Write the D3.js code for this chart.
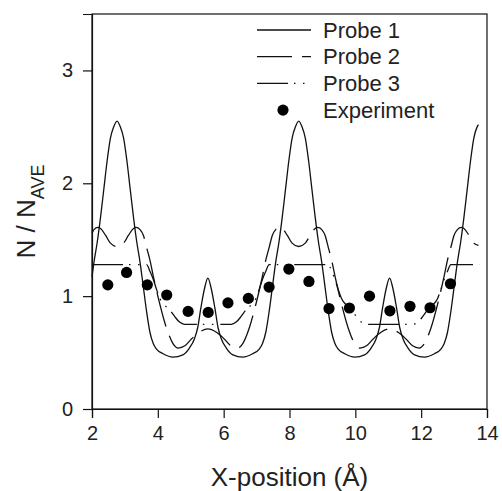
<!DOCTYPE html>
<html>
<head>
<meta charset="utf-8">
<script src="https://cdn.jsdelivr.net/npm/d3@7"></script>
<style>
  html, body { margin: 0; padding: 0; background: #fff; }
  svg { display: block; font-family: "Liberation Sans", Arial, sans-serif; }
</style>
</head>
<body>
<svg id="chart" width="502" height="491"></svg>
<script>
// Density profiles across the cell, N / N_AVE versus x-position (Å)
const probe1X = [2.00,2.06,2.16,2.26,2.36,2.46,2.56,2.66,2.76,2.86,2.96,3.06,3.16,3.26,3.36,3.46,3.56,3.66,3.76,3.86,3.96,4.16,4.46,4.76,4.96,5.11,5.21,5.31,5.42,5.52,5.62,5.73,5.83,5.93,6.08,6.28,6.58,6.88,7.08,7.18,7.28,7.38,7.48,7.58,7.68,7.78,7.88,7.98,8.08,8.18,8.28,8.38,8.48,8.58,8.68,8.78,8.88,8.98,9.08,9.18,9.28,9.38,9.48,9.68,9.98,10.28,10.48,10.63,10.73,10.83,10.94,11.04,11.14,11.25,11.35,11.45,11.60,11.80,12.10,12.40,12.60,12.70,12.80,12.90,13.00,13.10,13.20,13.30,13.40,13.50,13.60,13.70,13.74];
const probe1Y = [1.17,1.30,1.48,1.70,1.95,2.20,2.40,2.50,2.55,2.50,2.40,2.20,1.95,1.70,1.48,1.30,1.08,0.86,0.68,0.58,0.53,0.49,0.46,0.48,0.54,0.62,0.72,0.90,1.07,1.16,1.07,0.90,0.72,0.62,0.54,0.48,0.46,0.49,0.53,0.58,0.68,0.86,1.08,1.30,1.48,1.70,1.95,2.20,2.40,2.50,2.55,2.50,2.40,2.20,1.95,1.70,1.48,1.30,1.08,0.86,0.68,0.58,0.53,0.49,0.46,0.48,0.54,0.62,0.72,0.90,1.07,1.16,1.07,0.90,0.72,0.62,0.54,0.48,0.46,0.49,0.53,0.58,0.68,0.86,1.08,1.30,1.48,1.70,1.95,2.20,2.40,2.50,2.52];

const probe2X = [2.00,2.06,2.18,2.26,2.41,2.56,2.76,2.96,3.11,3.26,3.34,3.46,3.56,3.66,3.76,3.86,3.96,4.06,4.26,4.46,4.62,4.82,5.02,5.26,5.52,5.78,6.02,6.22,6.42,6.58,6.78,6.98,7.08,7.18,7.28,7.38,7.48,7.58,7.70,7.78,7.93,8.08,8.28,8.48,8.63,8.78,8.86,8.98,9.08,9.18,9.28,9.38,9.48,9.58,9.78,9.98,10.14,10.34,10.54,10.78,11.04,11.30,11.54,11.74,11.94,12.10,12.30,12.50,12.60,12.70,12.80,12.90,13.00,13.10,13.22,13.30,13.45,13.60,13.74];
const probe2Y = [1.56,1.59,1.61,1.60,1.54,1.47,1.44,1.47,1.54,1.60,1.61,1.59,1.54,1.43,1.32,1.18,1.05,0.93,0.72,0.58,0.54,0.56,0.62,0.68,0.71,0.68,0.62,0.56,0.54,0.58,0.72,0.93,1.05,1.18,1.32,1.43,1.54,1.59,1.61,1.60,1.54,1.47,1.44,1.47,1.54,1.60,1.61,1.59,1.54,1.43,1.32,1.18,1.05,0.93,0.72,0.58,0.54,0.56,0.62,0.68,0.71,0.68,0.62,0.56,0.54,0.58,0.72,0.93,1.05,1.18,1.32,1.43,1.54,1.59,1.61,1.60,1.54,1.47,1.45];

const probe3X = [2.00,3.66,3.76,3.86,3.96,4.06,4.21,4.36,4.51,4.66,4.81,6.23,6.38,6.53,6.68,6.83,6.98,7.08,7.18,7.28,7.38,9.18,9.28,9.38,9.48,9.58,9.73,9.88,10.03,10.18,10.33,11.75,11.90,12.05,12.20,12.35,12.50,12.60,12.70,12.80,12.90,13.76];
const probe3Y = [1.28,1.28,1.22,1.15,1.06,0.98,0.92,0.88,0.82,0.77,0.75,0.75,0.77,0.82,0.88,0.92,0.98,1.06,1.15,1.22,1.28,1.28,1.22,1.15,1.06,0.98,0.92,0.88,0.82,0.77,0.75,0.75,0.77,0.82,0.88,0.92,0.98,1.06,1.15,1.22,1.28,1.28];

const experimentX = [2.48,3.05,3.68,4.27,4.92,5.53,6.13,6.75,7.38,7.98,8.59,9.20,9.82,10.43,11.05,11.66,12.27,12.89];
const experimentY = [1.10,1.21,1.10,1.01,0.865,0.856,0.94,0.98,1.08,1.24,1.13,0.89,0.895,1.00,0.87,0.91,0.897,1.11];

const xTicks = [2, 4, 6, 8, 10, 12, 14];
const yTicks = [0, 1, 2, 3];
const seriesNames = ["Probe 1", "Probe 2", "Probe 3", "Experiment"];

const width = 502, height = 491;
const margin = { top: 14, right: 15, bottom: 82, left: 92 };
const innerW = width - margin.left - margin.right;
const innerH = height - margin.top - margin.bottom;
const ink = "#111";

const svg = d3.select("#chart");
const g = svg.append("g").attr("transform", `translate(${margin.left},${margin.top})`);

const x = d3.scaleLinear().domain([2, 14]).range([0, innerW]);
const y = d3.scaleLinear().domain([0, 3.5]).range([innerH, 0]);

// frame
g.append("rect")
  .attr("x", 0).attr("y", 0).attr("width", innerW).attr("height", innerH)
  .attr("fill", "none").attr("stroke", ink).attr("stroke-width", 1.2);

// axes
const xAxis = g.append("g").attr("transform", `translate(0,${innerH})`)
  .call(d3.axisBottom(x).tickValues(xTicks).tickSize(9).tickPadding(8).tickFormat(d3.format("d")));
const yAxis = g.append("g")
  .call(d3.axisLeft(y).tickValues(yTicks).tickSize(9).tickPadding(10).tickFormat(d3.format("d")));
[xAxis, yAxis].forEach(a => {
  a.select(".domain").attr("stroke", ink).attr("stroke-width", 1.2);
  a.selectAll(".tick line").attr("stroke", ink).attr("stroke-width", 1.2);
  a.selectAll(".tick text").attr("fill", "#222").style("font-size", "20px")
    .style("font-family", "'Liberation Sans', Arial, sans-serif");
});

// series
const line = d3.line().x(d => x(d[0])).y(d => y(d[1])).curve(d3.curveMonotoneX);
const zip = (xs, ys) => xs.map((v, i) => [v, ys[i]]);
const series = [
  { name: seriesNames[0], pts: zip(probe1X, probe1Y), dash: null },
  { name: seriesNames[1], pts: zip(probe2X, probe2Y), dash: "35,10" },
  { name: seriesNames[2], pts: zip(probe3X, probe3Y), dash: "31,6,1.5,7.5,1.5,7" }
];
series.forEach(s => {
  g.append("path").datum(s.pts)
    .attr("d", line)
    .attr("fill", "none")
    .attr("stroke", ink)
    .attr("stroke-width", 1.3)
    .attr("stroke-dasharray", s.dash);
});

g.selectAll("circle.exp")
  .data(zip(experimentX, experimentY))
  .join("circle")
  .attr("class", "exp")
  .attr("cx", d => x(d[0]))
  .attr("cy", d => y(d[1]))
  .attr("r", 5.6)
  .attr("fill", "#000");

// legend
const legend = svg.append("g").attr("transform", "translate(257,30)");
const rowH = 26.7;
series.forEach((s, i) => {
  legend.append("line")
    .attr("x1", 0).attr("x2", 54).attr("y1", i * rowH).attr("y2", i * rowH)
    .attr("stroke", ink).attr("stroke-width", 1.3)
    .attr("stroke-dasharray", s.dash);
});
legend.append("circle").attr("cx", 26).attr("cy", 3 * rowH).attr("r", 5.6).attr("fill", "#000");
seriesNames.forEach((n, i) => {
  legend.append("text")
    .attr("x", 66).attr("y", i * rowH)
    .attr("dy", "0.35em")
    .attr("fill", "#222")
    .style("font-size", "22px")
    .text(n);
});

// axis titles
svg.append("text")
  .attr("x", margin.left + innerW / 2).attr("y", 486)
  .attr("text-anchor", "middle")
  .attr("fill", "#222")
  .style("font-size", "26px")
  .text("X-position (Å)");

const yTitle = svg.append("text")
  .attr("transform", `translate(35,${margin.top + innerH / 2}) rotate(-90)`)
  .attr("text-anchor", "middle")
  .attr("fill", "#222")
  .style("font-size", "26px");
yTitle.append("tspan").text("N / N");
yTitle.append("tspan").attr("dy", 9).style("font-size", "18px").text("AVE");
</script>
</body>
</html>
